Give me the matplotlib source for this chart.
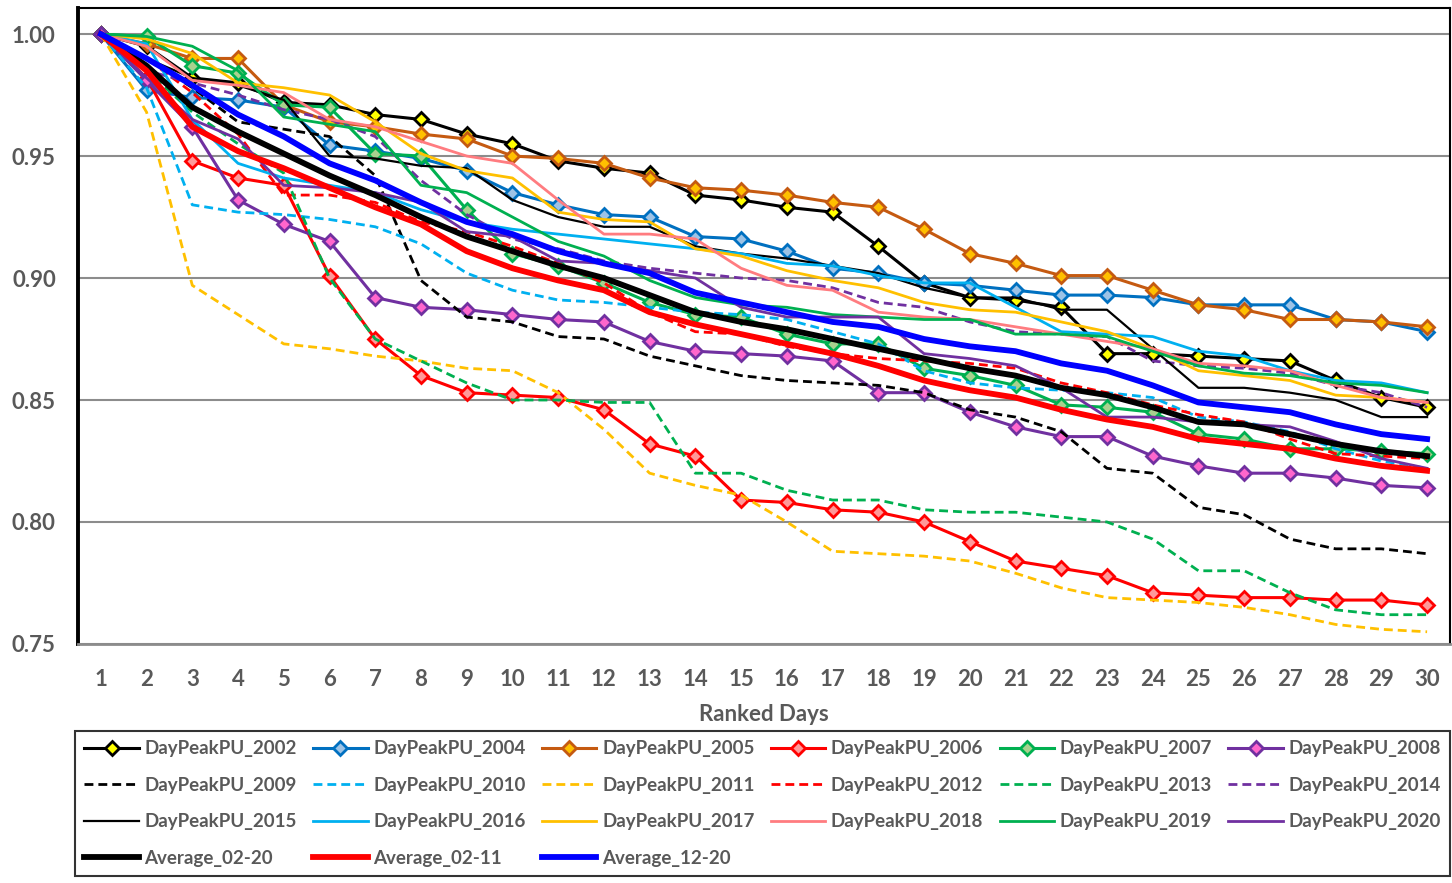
"""
Ranked day peak (per unit) curves, 2002-2020
"""

            #################
            #### IMPORTS ####

import matplotlib
matplotlib.use("Agg")
import matplotlib.pyplot as plt

            ##############
            #### DATA ####

days = list(range(1, 31))

yr2002 = [1.000, 0.995, 0.982, 0.980, 0.972, 0.971, 0.967, 0.965, 0.959, 0.955, 0.948, 0.945, 0.943, 0.934, 0.932,
          0.929, 0.927, 0.913, 0.898, 0.892, 0.891, 0.888, 0.869, 0.869, 0.868, 0.867, 0.866, 0.858, 0.851, 0.847]
yr2004 = [1.000, 0.977, 0.974, 0.973, 0.970, 0.9545, 0.952, 0.949, 0.944, 0.935, 0.930, 0.926, 0.925, 0.917, 0.916,
          0.911, 0.904, 0.902, 0.898, 0.897, 0.895, 0.893, 0.893, 0.892, 0.889, 0.889, 0.889, 0.883, 0.882, 0.878]
yr2005 = [1.000, 0.996, 0.990, 0.990, 0.971, 0.964, 0.962, 0.959, 0.957, 0.950, 0.949, 0.947, 0.941, 0.937, 0.936,
          0.934, 0.931, 0.929, 0.920, 0.910, 0.906, 0.901, 0.901, 0.895, 0.889, 0.887, 0.883, 0.883, 0.882, 0.880]
yr2006 = [1.000, 0.982, 0.948, 0.941, 0.938, 0.901, 0.875, 0.860, 0.853, 0.852, 0.851, 0.846, 0.832, 0.827, 0.809,
          0.808, 0.805, 0.804, 0.800, 0.792, 0.784, 0.781, 0.778, 0.771, 0.770, 0.769, 0.769, 0.768, 0.768, 0.766]
yr2007 = [1.000, 0.999, 0.987, 0.984, 0.971, 0.970, 0.951, 0.950, 0.928, 0.910, 0.905, 0.898, 0.890, 0.885, 0.884,
          0.877, 0.873, 0.873, 0.863, 0.860, 0.856, 0.848, 0.847, 0.845, 0.836, 0.834, 0.830, 0.830, 0.829, 0.828]
yr2008 = [1.000, 0.981, 0.962, 0.932, 0.922, 0.915, 0.892, 0.888, 0.887, 0.885, 0.883, 0.882, 0.874, 0.870, 0.869,
          0.868, 0.866, 0.853, 0.853, 0.845, 0.839, 0.835, 0.835, 0.827, 0.823, 0.820, 0.820, 0.818, 0.815, 0.814]
yr2009 = [1.000, 0.990, 0.978, 0.964, 0.961, 0.958, 0.942, 0.899, 0.884, 0.882, 0.876, 0.875, 0.868, 0.864, 0.860,
          0.858, 0.857, 0.856, 0.853, 0.846, 0.843, 0.837, 0.822, 0.820, 0.806, 0.803, 0.793, 0.789, 0.789, 0.787]
yr2010 = [1.000, 0.978, 0.930, 0.927, 0.926, 0.924, 0.921, 0.914, 0.902, 0.895, 0.891, 0.890, 0.888, 0.886, 0.885,
          0.883, 0.878, 0.873, 0.862, 0.857, 0.855, 0.854, 0.853, 0.851, 0.843, 0.841, 0.837, 0.830, 0.825, 0.822]
yr2011 = [1.000, 0.968, 0.897, 0.885, 0.873, 0.871, 0.868, 0.866, 0.863, 0.862, 0.853, 0.838, 0.820, 0.815, 0.811,
          0.800, 0.788, 0.787, 0.786, 0.784, 0.779, 0.773, 0.769, 0.768, 0.767, 0.765, 0.762, 0.758, 0.756, 0.755]
yr2012 = [1.000, 0.990, 0.976, 0.959, 0.934, 0.934, 0.931, 0.923, 0.919, 0.913, 0.906, 0.898, 0.886, 0.878, 0.877,
          0.872, 0.869, 0.867, 0.866, 0.865, 0.863, 0.857, 0.853, 0.848, 0.844, 0.841, 0.834, 0.828, 0.827, 0.826]
yr2013 = [1.000, 0.985, 0.968, 0.955, 0.943, 0.900, 0.875, 0.866, 0.857, 0.850, 0.850, 0.849, 0.849, 0.820, 0.820,
          0.813, 0.809, 0.809, 0.805, 0.804, 0.804, 0.802, 0.800, 0.793, 0.780, 0.780, 0.771, 0.764, 0.762, 0.762]
yr2014 = [1.000, 0.985, 0.980, 0.975, 0.969, 0.965, 0.958, 0.940, 0.926, 0.916, 0.912, 0.907, 0.904, 0.902, 0.900,
          0.899, 0.896, 0.890, 0.888, 0.882, 0.878, 0.877, 0.876, 0.866, 0.864, 0.863, 0.861, 0.856, 0.853, 0.847]
yr2015 = [1.000, 0.990, 0.982, 0.979, 0.973, 0.950, 0.949, 0.946, 0.945, 0.932, 0.925, 0.921, 0.921, 0.913, 0.910,
          0.908, 0.905, 0.902, 0.896, 0.892, 0.892, 0.887, 0.887, 0.871, 0.855, 0.855, 0.853, 0.850, 0.843, 0.843]
yr2016 = [1.000, 0.996, 0.965, 0.947, 0.941, 0.938, 0.935, 0.928, 0.923, 0.920, 0.918, 0.916, 0.914, 0.912, 0.910,
          0.906, 0.905, 0.901, 0.898, 0.898, 0.888, 0.878, 0.877, 0.876, 0.870, 0.868, 0.862, 0.858, 0.857, 0.853]
yr2017 = [1.000, 0.998, 0.992, 0.980, 0.978, 0.975, 0.964, 0.951, 0.944, 0.941, 0.927, 0.924, 0.923, 0.912, 0.909,
          0.903, 0.899, 0.896, 0.890, 0.887, 0.886, 0.882, 0.878, 0.871, 0.862, 0.860, 0.858, 0.852, 0.851, 0.849]
yr2018 = [1.000, 0.995, 0.981, 0.979, 0.976, 0.965, 0.962, 0.956, 0.950, 0.947, 0.932, 0.918, 0.918, 0.916, 0.904,
          0.897, 0.895, 0.886, 0.884, 0.883, 0.880, 0.877, 0.874, 0.871, 0.865, 0.864, 0.862, 0.856, 0.851, 0.849]
yr2019 = [1.000, 0.999, 0.995, 0.985, 0.966, 0.963, 0.960, 0.938, 0.935, 0.925, 0.915, 0.909, 0.899, 0.892, 0.889,
          0.888, 0.885, 0.884, 0.883, 0.883, 0.877, 0.877, 0.876, 0.870, 0.864, 0.861, 0.860, 0.857, 0.856, 0.853]
yr2020 = [1.000, 0.982, 0.965, 0.957, 0.938, 0.937, 0.935, 0.931, 0.919, 0.917, 0.907, 0.906, 0.903, 0.900, 0.888,
          0.884, 0.884, 0.884, 0.869, 0.867, 0.864, 0.855, 0.843, 0.843, 0.841, 0.840, 0.839, 0.833, 0.826, 0.822]

avg_02_20 = [1.000, 0.987, 0.970, 0.960, 0.951, 0.942, 0.934, 0.925, 0.917, 0.911, 0.905, 0.900, 0.893, 0.886, 0.882,
             0.879, 0.875, 0.871, 0.867, 0.863, 0.860, 0.855, 0.852, 0.847, 0.841, 0.840, 0.836, 0.832, 0.829, 0.827]
avg_02_11 = [1.000, 0.985, 0.962, 0.952, 0.945, 0.937, 0.929, 0.922, 0.911, 0.904, 0.899, 0.895, 0.886, 0.881, 0.877,
             0.873, 0.869, 0.864, 0.858, 0.854, 0.851, 0.846, 0.842, 0.839, 0.834, 0.832, 0.830, 0.826, 0.823, 0.821]
avg_12_20 = [1.000, 0.990, 0.979, 0.967, 0.958, 0.947, 0.940, 0.931, 0.923, 0.918, 0.911, 0.906, 0.902, 0.894, 0.890,
             0.886, 0.882, 0.880, 0.875, 0.872, 0.870, 0.865, 0.862, 0.856, 0.849, 0.847, 0.845, 0.840, 0.836, 0.834]

y_ticks = [0.75, 0.80, 0.85, 0.90, 0.95, 1.00]

            ################
            #### STYLES ####

DASH = (0, (3.2, 1.8))
GRAY = '#595959'

# (label, values, color, linestyle, linewidth, marker face)
series = [
    ('DayPeakPU_2002', yr2002, 'black', '-', 2.2, '#FFFF00'),
    ('DayPeakPU_2004', yr2004, '#0070C0', '-', 2.2, '#9DC3E6'),
    ('DayPeakPU_2005', yr2005, '#C55A11', '-', 2.2, '#FFC000'),
    ('DayPeakPU_2006', yr2006, '#FF0000', '-', 2.2, '#FF9999'),
    ('DayPeakPU_2007', yr2007, '#00B050', '-', 2.2, '#A9D18E'),
    ('DayPeakPU_2008', yr2008, '#7030A0', '-', 2.2, '#FF66CC'),
    ('DayPeakPU_2009', yr2009, 'black', DASH, 2.0, None),
    ('DayPeakPU_2010', yr2010, '#00B0F0', DASH, 2.0, None),
    ('DayPeakPU_2011', yr2011, '#FFC000', DASH, 2.0, None),
    ('DayPeakPU_2012', yr2012, '#FF0000', DASH, 2.0, None),
    ('DayPeakPU_2013', yr2013, '#00B050', DASH, 2.0, None),
    ('DayPeakPU_2014', yr2014, '#7030A0', DASH, 2.0, None),
    ('DayPeakPU_2015', yr2015, 'black', '-', 1.6, None),
    ('DayPeakPU_2016', yr2016, '#00B0F0', '-', 2.0, None),
    ('DayPeakPU_2017', yr2017, '#FFC000', '-', 2.0, None),
    ('DayPeakPU_2018', yr2018, '#FF7C80', '-', 2.0, None),
    ('DayPeakPU_2019', yr2019, '#00B050', '-', 2.0, None),
    ('DayPeakPU_2020', yr2020, '#7030A0', '-', 2.0, None),
    ('Average_02-20', avg_02_20, 'black', '-', 4.2, None),
    ('Average_02-11', avg_02_11, '#FF0000', '-', 4.2, None),
    ('Average_12-20', avg_12_20, '#0000FF', '-', 4.2, None),
]

            ##############
            #### PLOT ####

plt.rcParams['font.family'] = ['Lato', 'DejaVu Sans']

fig = plt.figure(figsize=(14.52, 8.83), dpi=100)
ax = fig.add_axes([0.0537, 0.2707, 0.9449, 0.7203])

handles = []
for label, vals, color, ls, lw, face in series:
    if face is not None:
        h, = ax.plot(days, vals, color=color, linestyle=ls, linewidth=lw,
                     marker='D', markersize=7, markerfacecolor=face,
                     markeredgecolor=color, markeredgewidth=2.0, label=label)
    else:
        h, = ax.plot(days, vals, color=color, linestyle=ls, linewidth=lw, label=label)
    handles.append(h)

ax.set_xlim(0.5, 30.5)
ax.set_ylim(0.75, 1.0107)
ax.set_xticks(days)
ax.set_yticks(y_ticks)
ax.set_yticklabels(['%.2f' % v for v in y_ticks])
ax.tick_params(axis='both', length=0, labelsize=16, labelcolor=GRAY)
ax.tick_params(axis='y', pad=16)
ax.tick_params(axis='x', pad=18)
for lab in ax.get_xticklabels() + ax.get_yticklabels():
    lab.set_fontweight('bold')

ax.grid(True, axis='y', color='#8C8C8C', linewidth=1.5)
ax.set_axisbelow(True)

ax.spines['left'].set_linewidth(2.8)
ax.spines['left'].set_color('black')
ax.spines['top'].set_linewidth(1.5)
ax.spines['right'].set_linewidth(1.5)
ax.spines['bottom'].set_color('#8C8C8C')
ax.spines['bottom'].set_linewidth(2.0)

ax.set_xlabel('Ranked Days', fontsize=16, fontweight='bold', color=GRAY, labelpad=10)

            ################
            #### LEGEND ####

# legend fills column-wise, so reorder to read row by row like the original
order = [0, 6, 12, 18, 1, 7, 13, 19, 2, 8, 14, 20, 3, 9, 15, 4, 10, 16, 5, 11, 17]
leg = fig.legend([handles[i] for i in order], [series[i][0] for i in order],
                 loc='lower left', bbox_to_anchor=(0.0517, 0.0079, 0.947, 0.165),
                 mode='expand', ncol=6, fontsize=13.5, frameon=True, fancybox=False,
                 handlelength=2.9, handletextpad=0.3, columnspacing=0.8,
                 labelspacing=1.04, borderpad=0.5, borderaxespad=0.0)
leg.get_frame().set_edgecolor('black')
leg.get_frame().set_linewidth(1.5)
for t in leg.get_texts():
    t.set_fontweight('bold')
    t.set_color(GRAY)

fig.savefig('out.png', dpi=100)
plt.close(fig)
